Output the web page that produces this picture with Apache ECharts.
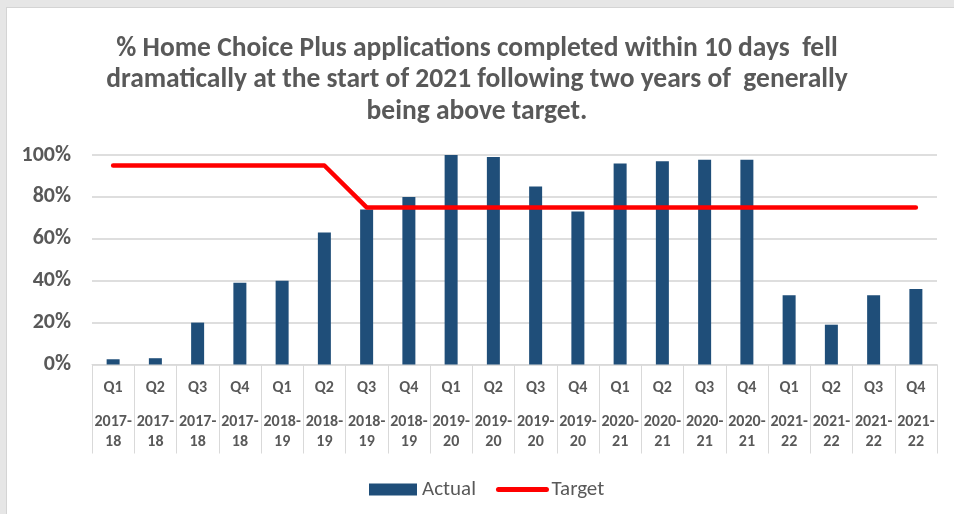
<!DOCTYPE html>
<html lang="en">
<head>
    <meta charset="UTF-8">
    <title>Home Choice Plus</title>
    <script src="https://cdn.jsdelivr.net/npm/echarts@6/dist/echarts.min.js"></script>
    <style>
        body { margin: 0; background: #e6e6e6; }
        #frame { position: absolute; left: 6px; top: 7px; width: 948px; height: 507px; background: #fff;
                 border-left: 1px solid #d4d4d4; border-top: 1px solid #d4d4d4; }
        #chart { position: absolute; left: 0; top: 0; width: 954px; height: 514px; }
    </style>
</head>
<body>
    <div id="frame"></div>
    <div id="chart"></div>
    <script>
        var quarters = ['Q1', 'Q2', 'Q3', 'Q4', 'Q1', 'Q2', 'Q3', 'Q4', 'Q1', 'Q2',
                        'Q3', 'Q4', 'Q1', 'Q2', 'Q3', 'Q4', 'Q1', 'Q2', 'Q3', 'Q4'];
        var years = ['2017-18', '2017-18', '2017-18', '2017-18', '2018-19', '2018-19', '2018-19', '2018-19',
                     '2019-20', '2019-20', '2019-20', '2019-20', '2020-21', '2020-21', '2020-21', '2020-21',
                     '2021-22', '2021-22', '2021-22', '2021-22'];
        var actual = [2.5, 3, 20, 39, 40, 63, 74, 80, 100, 99, 85, 73, 96, 97, 97.7, 97.7, 33, 19, 33, 36];
        var target = [95, 95, 95, 95, 95, 95, 75, 75, 75, 75, 75, 75, 75, 75, 75, 75, 75, 75, 75, 75];

        var font = 'Carlito, "Liberation Sans Narrow", "Open Sans", sans-serif';
        var grey = '#595959';

        var chart = echarts.init(document.getElementById('chart'));
        chart.setOption({
            backgroundColor: 'transparent',
            title: {
                text: '% Home Choice Plus applications completed within 10 days  fell\ndramatically at the start of 2021 following two years of  generally\nbeing above target.',
                left: 'center',
                top: 28,
                textStyle: { fontFamily: font, fontSize: 27.5, fontWeight: 'bold', color: grey, lineHeight: 31.5, align: 'center' }
            },
            legend: {
                data: [
                    { name: 'Actual', icon: 'rect' },
                    { name: 'Target', itemStyle: { opacity: 0 }, lineStyle: { width: 5, cap: 'round', color: '#ff0000' } }
                ],
                left: 364,
                top: 474,
                itemWidth: 48,
                itemHeight: 12,
                itemGap: 20,
                textStyle: { fontFamily: font, fontSize: 21, color: grey }
            },
            grid: { left: 92, right: 17, top: 155, bottom: 149.5 },
            xAxis: [{
                type: 'category',
                data: quarters,
                axisLine: { lineStyle: { color: '#d9d9d9', width: 1 } },
                axisTick: { show: true, interval: 0, length: 89, lineStyle: { color: '#d9d9d9' } },
                axisLabel: { interval: 0, margin: 14.5, fontFamily: font, fontSize: 16, fontWeight: 'bold', color: grey, lineHeight: 18 }
            }, {
                type: 'category',
                data: years,
                position: 'bottom',
                axisLine: { show: false },
                axisTick: { show: false },
                axisLabel: {
                    interval: 0, margin: 48, fontFamily: font, fontSize: 16, fontWeight: 'bold', color: grey, lineHeight: 19.5,
                    formatter: function(v) { return v.replace('-', '-\n'); }
                }
            }],
            yAxis: {
                type: 'value',
                min: 0,
                max: 100,
                interval: 20,
                axisLine: { show: false },
                axisTick: { show: false },
                axisLabel: { formatter: '{value}%', margin: 21, fontFamily: font, fontSize: 22, fontWeight: 'bold', color: grey },
                splitLine: { lineStyle: { color: '#dedede', width: 2 } }
            },
            series: [{
                name: 'Actual',
                type: 'bar',
                data: actual,
                barWidth: 13,
                itemStyle: { color: '#1f4e79' }
            }, {
                name: 'Target',
                type: 'line',
                data: target,
                symbol: 'none',
                lineStyle: { color: '#ff0000', width: 4.5, cap: 'round', join: 'round' },
                itemStyle: { color: '#ff0000' }
            }]
        });
    </script>
</body>
</html>
